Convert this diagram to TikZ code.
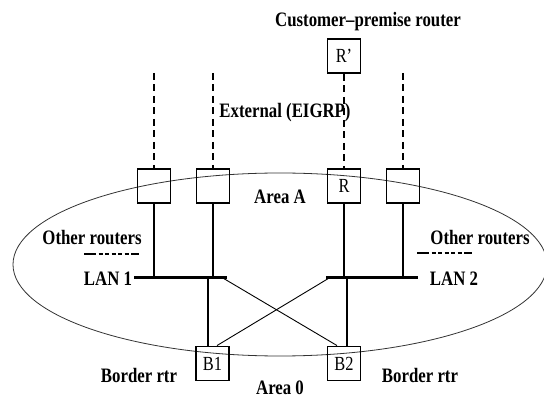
\documentclass[tikz,border=0pt]{standalone}
\usepackage{fontspec}
\setmainfont{Liberation Serif}[FakeStretch=0.82]
\usetikzlibrary{calc}
\begin{document}
\begin{tikzpicture}[x=1pt,y=-1pt,
  rbox/.style={draw, line width=1.9pt, minimum width=33pt, minimum height=34pt, inner sep=0pt,
    font=\mdseries\fontsize{20}{20}\selectfont},
  lbl/.style={font=\bfseries\fontsize{20.5}{22}\selectfont, inner sep=0pt},
  ext/.style={line width=2pt, dash pattern=on 7pt off 4.5pt},
  link/.style={line width=1.8pt},
  lan/.style={line width=3pt},
  thin/.style={line width=0.9pt},
  dd/.style={line width=1.4pt, dash pattern=on 12pt off 2.5pt on 4pt off 2.5pt on 4pt off 2.5pt on 4pt off 2.5pt on 4pt off 2.5pt on 4pt off 2.5pt on 8pt off 100pt}]
\useasboundingbox (0,0) rectangle (544,398);

% ellipse (Area A)
\draw[line width=0.8pt, black!80] (280,264.5) ellipse [x radius=267, y radius=91.5];

% labels
\node[lbl] (cust) at (368,22) {Customer–premise router};
\node[lbl] (ext) at (285,113) {External (EIGRP)};
\node[lbl] (areaA) at (280,197) {Area A};
\node[lbl] (oth1) at (92,238) {Other routers};
\node[lbl] (oth2) at (480,238) {Other routers};
\node[lbl] (lan1l) at (108,279) {LAN 1};
\node[lbl] (lan2l) at (454,279) {LAN 2};
\node[lbl] (bor1) at (139,375) {Border rtr};
\node[lbl] (bor2) at (420,375) {Border rtr};
\node[lbl] (area0) at (280,388) {Area 0};

% routers
\node[rbox] (Rp) at (344,56) {R'};
\node[rbox] (a1) at (154,186) {};
\node[rbox] (a2) at (213,186) {};
\node[rbox] (R)  at (344,186) {R};
\node[rbox] (a4) at (403,186) {};
\node[rbox] (B1) at (212.5,363.5) {B1};
\node[rbox] (B2) at (344,363.5) {B2};

% external dashed links
\coordinate (e1) at (154,73);
\coordinate (e2) at (213,73);
\coordinate (e4) at (403,73);
\draw[ext] (e1) -- (a1.north);
\draw[ext] (e2) -- (a2.north);
\draw[ext] (Rp.south) -- (R.north);
\draw[ext] (e4) -- (a4.north);

% LANs
\coordinate (l1w) at (134,277.5);
\coordinate (l1e) at (227,277.5);
\coordinate (l2w) at (326,277.5);
\coordinate (l2e) at (418,277.5);
\draw[lan] (l1w) -- (l1e);
\draw[lan] (l2w) -- (l2e);

% router to LAN links
\draw[link] (a1.south) -- (a1.south |- l1w);
\draw[link] (a2.south) -- (a2.south |- l1w);
\draw[link] (R.south) -- (R.south |- l2w);
\draw[link] (a4.south) -- (a4.south |- l2w);

% LAN to border routers
\coordinate (j1) at (208,277.5);
\coordinate (j2) at (347,277.5);
\draw[link] (j1) -- (j1 |- B1.north);
\draw[link] (j2) -- (j2 |- B2.north);
\draw[thin] ($(l1e)+(-5,0)$) -- ($(B2.north)+(-7,0)$);
\draw[thin] ($(l2w)+(4,0)$) -- ($(B1.north)+(4.5,0)$);

% other routers dash-dot marks
\coordinate (o1) at (84,254);
\coordinate (o2) at (417,253);
\draw[dd] (o1) -- ++(56,0);
\draw[dd] (o2) -- ++(56,0);
\end{tikzpicture}
\end{document}
